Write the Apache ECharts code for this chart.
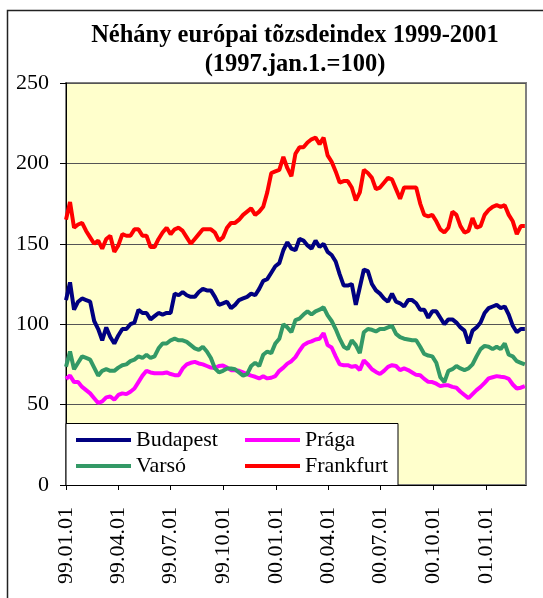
<!DOCTYPE html>
<html>
<head>
<meta charset="utf-8">
<script src="https://cdn.jsdelivr.net/npm/echarts@6/dist/echarts.min.js"></script>
<style>
  html, body { margin: 0; padding: 0; background: #fff; }
  #main { width: 543px; height: 598px; }
</style>
</head>
<body>
<div id="main"></div>
<script>
// napok 1999.01.01-tol, negyedeves tickek
var tickDays = [0, 90, 181, 273, 365, 456, 547, 639, 731];
var tickLabels = ['99.01.01', '99.04.01', '99.07.01', '99.10.01', '00.01.01', '00.04.01', '00.07.01', '00.10.01', '01.01.01'];

// heti adatok (115 het)
var budapest = [115,126,109,114,116,115,114,102,97,90,98,92,88,93,97,97,100,101,109,107,107,103,105,107,
    106,107,107,119,118,120,118,117,117,120,122,121,121,117,112,113,114,110,112,115,116,117,119,118,
    122,127,128,132,136,138,146,151,147,146,153,152,149,147,152,148,150,145,143,139,131,124,124,
    125,112,123,134,133,125,121,119,116,114,119,114,113,111,115,115,113,109,109,104,108,108,104,
    100,103,103,101,98,96,88,96,98,101,107,110,111,112,110,111,106,99,95,97,97];
var praga = [66,68,64,64,61,59,57,54,51,52,54.5,55,53,56,57,56.5,58,60,64,68,71,70,69.5,69.5,
    69.5,70,69,68.3,68.3,72.5,75,76,76.6,75.6,75,74,73,72.7,74,74.3,73,71.4,71.4,71,70,69,68,67.3,
    66.3,67.7,66.3,66.7,67.7,71,73,75.5,77,79.5,83.5,87,88.5,89.3,90.5,91,94.5,87,85.5,80,75,74.5,74.5,
    73.5,74,71.5,77.5,75,72,70.3,69,71,73.5,74.5,74,71.4,72.5,71.5,70,68.5,68.3,66,64.2,64,63,61.5,
    62,62,61,60.5,58,56,54,56.5,59,61,63.5,66.3,67,67.7,67.3,67,66,62.5,60,60.5,61.5];
var varso = [73.5,83,72,76,80,79,78,73,68,71,72,71,71,73,74.5,75,77,78,80,79,81,79,80,85,
    88,88,90,91,90,90,89,87,85,84,86,83,79,72.5,70,71,72.5,72.5,72,70,68,69,74,76,
    74,81,83,82,88,91,100,98,95,102.5,103.5,106,108,106,108,109,110.5,105.5,102,97,91,86,84.5,
    90,87,82,95,97,96.5,95.5,97,97,98,99,94,92,91,90.5,90,90,86,81.5,80.5,80,76,67,
    64,71,72,74,72.5,71.5,72.5,75,80,84.5,86.5,86,84.5,86,84.5,88,81,80,77,76,75];
var frankfurt = [165,176,160,162,163,158,154,150,152,147,153,155,145,149,156,155,155,159,159,155,155,148,148,153,
    157,160,156,159,160,158,154,150,153,156,159,159,159,157,152,154,160,163,163,165,168,170,172,168,
    170,173,182,194,195,196,204,197,192,206,210,210,213,215,216,212,216,205,201,195,188,189,189,
    185,177,182,196,194,191,184,185,188,191,190,184,178,185,185,185,185,175,168,167,168,164,159,
    157,160,170,168,161,157,158,166,160,161,168,171,173,174,173,174,168,164,156,161,161];

var weekDays = budapest.map(function (v, i) { return i * 7; });

function pairs(arr) {
    return arr.map(function (v, i) { return [weekDays[i], v]; });
}

var serif = 'Liberation Serif, Times New Roman, serif';

function lineSeries(name, color, arr) {
    return {
        name: name,
        type: 'line',
        data: pairs(arr),
        symbol: 'none',
        smooth: false,
        lineStyle: { color: color, width: 4 },
        itemStyle: { color: color },
        emphasis: { disabled: true }
    };
}

function legendCol(names, left) {
    return {
        orient: 'vertical',
        left: left,
        top: 429,
        padding: 0,
        z: 10,
        icon: 'rect',
        itemWidth: 55,
        itemHeight: 4,
        itemGap: 4,
        data: names,
        textStyle: { fontFamily: serif, fontSize: 22, lineHeight: 22, color: '#000' }
    };
}

var myChart = echarts.init(document.getElementById('main'));
var option = {
    backgroundColor: '#fff',
    animation: false,
    title: {
        text: 'Néhány európai tõzsdeindex 1999-2001\n(1997.jan.1.=100)',
        left: 290,
        top: 16,
        textAlign: 'center',
        textStyle: {
            fontFamily: serif,
            fontWeight: 'bold',
            fontSize: 24.5,
            lineHeight: 29,
            color: '#000'
        }
    },
    grid: {
        left: 66,
        right: 17,
        top: 83,
        bottom: 113,
        show: true,
        backgroundColor: '#FFFFCC',
        borderColor: '#808080',
        borderWidth: 2
    },
    legend: [legendCol(['Budapest', 'Varsó'], 76), legendCol(['Prága', 'Frankfurt'], 245)],
    xAxis: {
        type: 'value',
        min: 0,
        max: 800,
        axisLine: { show: true, lineStyle: { color: '#000', width: 1 } },
        axisTick: { show: true, customValues: tickDays, length: 5, lineStyle: { color: '#000' } },
        axisLabel: {
            customValues: tickDays,
            rotate: 90,
            margin: 22,
            fontFamily: serif,
            fontSize: 22,
            color: '#000',
            formatter: function (v) {
                var k = tickDays.indexOf(v);
                return k >= 0 ? tickLabels[k] : '';
            }
        },
        splitLine: { show: false }
    },
    yAxis: {
        type: 'value',
        min: 0,
        max: 250,
        interval: 50,
        axisLine: { show: true, lineStyle: { color: '#000', width: 1 } },
        axisTick: { show: true, length: 6, lineStyle: { color: '#000' } },
        axisLabel: { margin: 17, fontFamily: serif, fontSize: 22, color: '#000' },
        splitLine: { show: true, lineStyle: { color: '#555', width: 1 } }
    },
    graphic: [{
        type: 'rect',
        shape: { x: 7.5, y: 10.5, width: 600, height: 620 },
        style: { fill: 'none', stroke: '#222', lineWidth: 1.5 },
        silent: true,
        z: 0
    }, {
        type: 'rect',
        shape: { x: 66, y: 423.5, width: 332, height: 62 },
        style: { fill: '#fff', stroke: '#000', lineWidth: 1 },
        silent: true,
        z: 3
    }],
    series: [
        lineSeries('Budapest', '#000080', budapest),
        lineSeries('Prága', '#FF00FF', praga),
        lineSeries('Varsó', '#339966', varso),
        lineSeries('Frankfurt', '#FF0000', frankfurt)
    ]
};
myChart.setOption(option);
</script>
</body>
</html>
